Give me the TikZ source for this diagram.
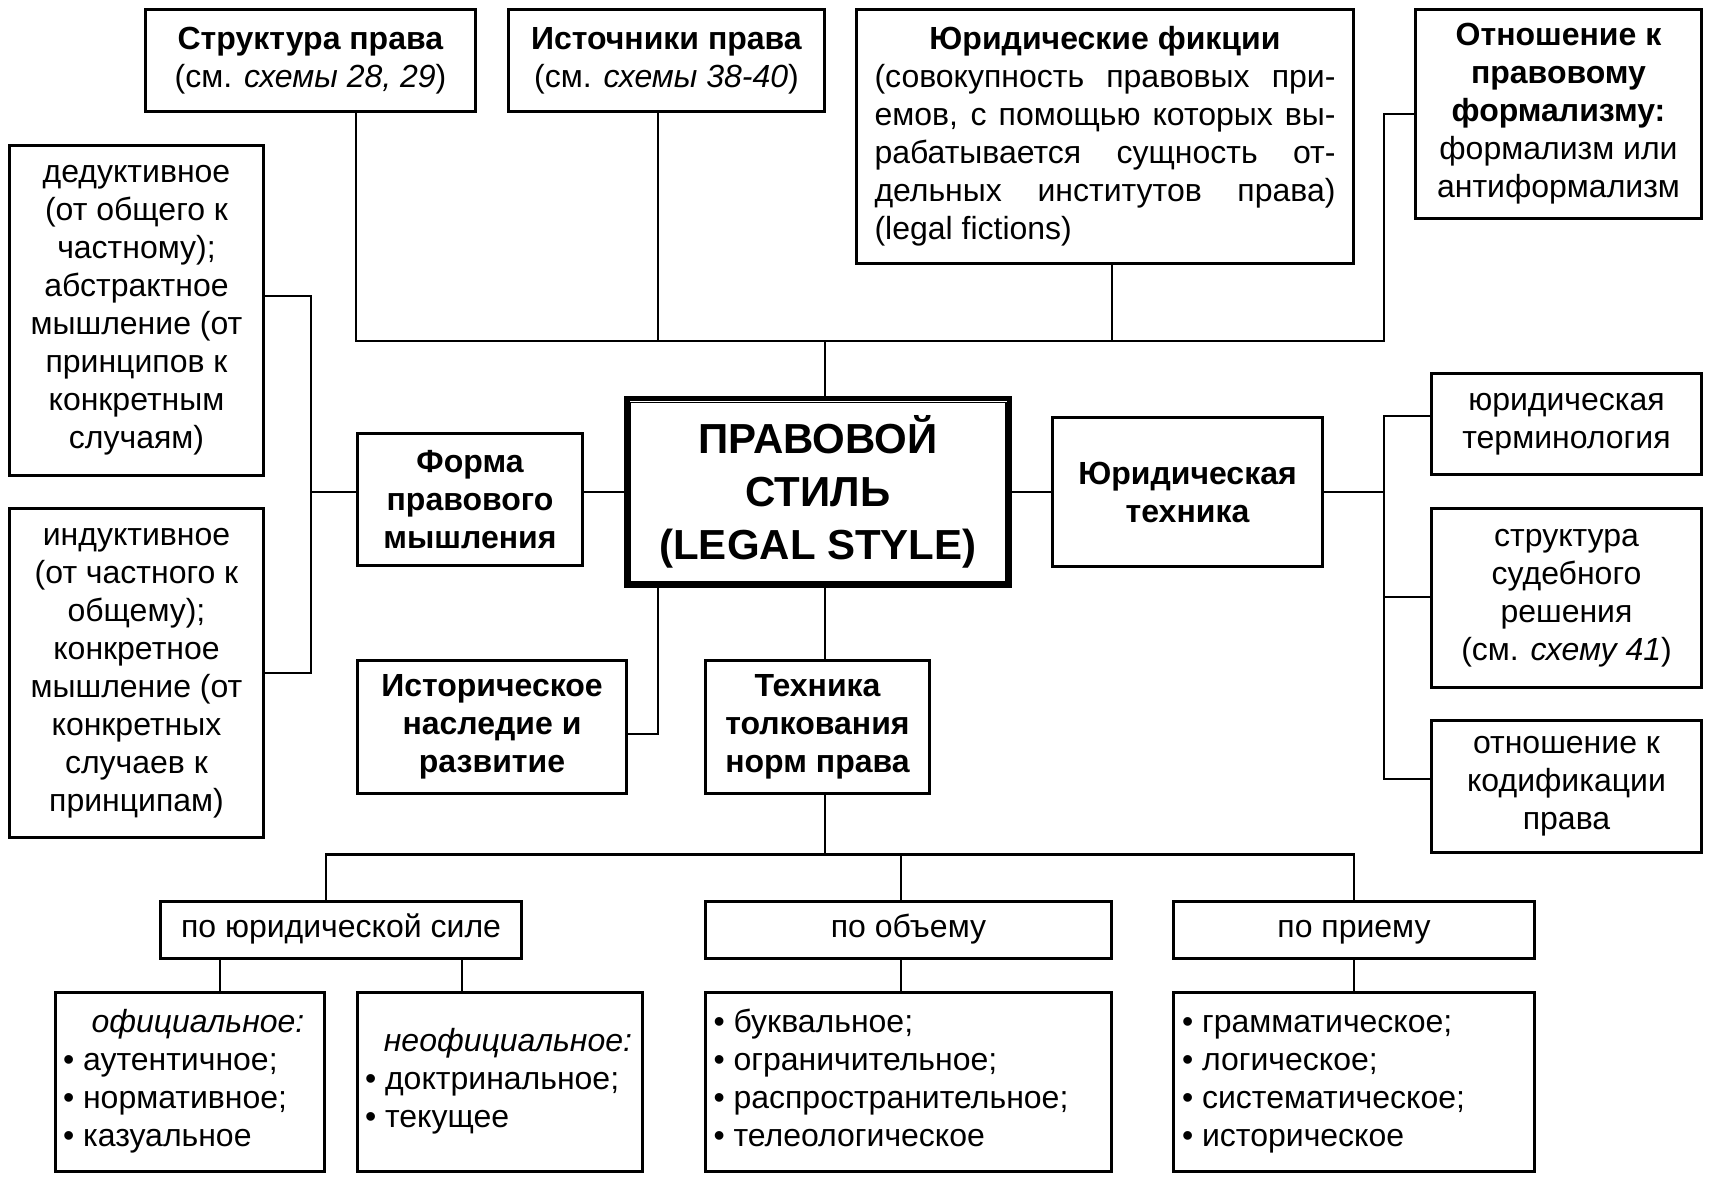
\documentclass[tikz,border=0pt]{standalone}
\usepackage{fontspec}
\setmainfont{Liberation Sans}
\tikzset{
  box/.style={draw, line width=1.45pt, inner sep=0pt, align=center,
    font=\fontsize{16pt}{19pt}\selectfont},
  bbox/.style={font=\bfseries\fontsize{16pt}{19pt}\selectfont},
  conn/.style={line width=1.1pt},
}
% box from its outer edges: [options]{name}{x1}{y1}{x2}{y2}{text}
\newcommand\bx[7][]{%
  \node[box,#1,minimum width={(#5-#3-2.9)*0.5pt},minimum height={(#6-#4-2.9)*0.5pt}]
    (#2) at ({(#3+#5)/2},{(#4+#6)/2}) {#7};}
\begin{document}
\begin{tikzpicture}[x=0.5pt,y=-0.5pt]
\fill[white] (0,0) rectangle (1709,1181);
\useasboundingbox (0,0) rectangle (1709,1181);

% top row
\bx{struct}{144}{8}{477}{113}{\textbf{Структура права}\\(см. \textit{схемы 28, 29})}
\bx{sources}{507}{8}{826}{113}{\textbf{Источники права}\\(см. \textit{схемы 38-40})}
\bx{fict}{855}{8}{1355}{265}{\parbox{230.5pt}{\hyphenpenalty=10000
  {\centering\textbf{Юридические фикции}\par}%
  (совокупность правовых при-\linebreak емов, с помощью которых вы-\linebreak
  рабатывается сущность от-\linebreak дельных институтов права)\linebreak
  (legal fictions)}}
\bx{otn}{1414}{8}{1703}{220}{\textbf{Отношение к}\\\textbf{правовому}\\\textbf{формализму:}\\формализм или\\антиформализм}

% left column
\bx{ded}{8}{144}{265}{477}{дедуктивное\\(от общего к\\частному);\\абстрактное\\мышление (от\\принципов к\\конкретным\\случаям)}
\bx{ind}{8}{507}{265}{839}{индуктивное\\(от частного к\\общему);\\конкретное\\мышление (от\\конкретных\\случаев к\\принципам)}

% middle
\bx[bbox]{form}{356}{432}{584}{567}{Форма\\правового\\мышления}
\node[draw, line width=2.75pt, inner sep=0pt,
  minimum width={(1012-624-5.5)*0.5pt}, minimum height={(588-396-5.5)*0.5pt},
  align=center, font=\bfseries\fontsize{21pt}{26.5pt}\selectfont]
  (central) at (818,492) {ПРАВОВОЙ\\СТИЛЬ\\(LEGAL STYLE)};
\draw[line width=0.75pt] ([shift={(2.9pt,-3.3pt)}]central.north west)
  rectangle ([shift={(-2.9pt,3.3pt)}]central.south east);
\bx[bbox]{yurtech}{1051}{416}{1324}{568}{Юридическая\\техника}
\bx[bbox]{hist}{356}{659}{628}{795}{Историческое\\наследие и\\развитие}
\bx[bbox]{tolk}{704}{659}{931}{795}{Техника\\толкования\\норм права}

% right column
\bx{term}{1430}{372}{1703}{476}{юридическая\\терминология}
\bx{sud}{1430}{507}{1703}{689}{структура\\судебного\\решения\\(см. \textit{схему 41})}
\bx{kod}{1430}{719}{1703}{854}{отношение к\\кодификации\\права}

% kinds of interpretation
\bx{poyur}{159}{900}{523}{960}{\strut по юридической силе}
\bx{poob}{704}{900}{1113}{960}{\strut по объему}
\bx{popr}{1172}{900}{1536}{960}{\strut по приему}
\bx{off}{54}{991}{326}{1173}{\parbox{127pt}{{\centering\itshape\strut\hspace*{8pt}официальное:\par}\raggedright
  • аутентичное;\\• нормативное;\\• казуальное\strut}}
\bx{neoff}{356}{991}{644}{1173}{\parbox{135pt}{{\centering\itshape\strut\hspace*{8pt}неофициальное:\par}\raggedright
  • доктринальное;\\• текущее\strut}}
\bx{obb}{704}{991}{1113}{1173}{\parbox{195pt}{\raggedright
  \strut• буквальное;\\• ограничительное;\\• распространительное;\\• телеологическое\strut}}
\bx{prb}{1172}{991}{1536}{1173}{\parbox{172pt}{\raggedright
  \strut• грамматическое;\\• логическое;\\• систематическое;\\• историческое\strut}}

% junction points
\coordinate (jS) at (356,341);
\coordinate (jI) at (658,341);
\coordinate (jC) at (825,341);
\coordinate (jF) at (1112,341);
\coordinate (jO) at (1384,341);
\coordinate (jL) at (311,492);
\coordinate (bL1) at (311,296);
\coordinate (bL2) at (311,673);
\coordinate (jR) at (1384,492);
\coordinate (bR1) at (1384,416);
\coordinate (bR2) at (1384,597);
\coordinate (bR3) at (1384,779);
\coordinate (jH) at (658,734);
\coordinate (jB) at (825,854.5);
\coordinate (jB1) at (326,854.5);
\coordinate (jB2) at (901,854.5);
\coordinate (jB3) at (1354,854.5);
\coordinate (xa) at (220,975);
\coordinate (xb) at (462,975);
\coordinate (xc) at (901,975);
\coordinate (xd) at (1354,975);

% upper bus
\draw[conn] (struct.south -| jS) -- (jS) -- (jO) |- (otn.west);
\draw[conn] (sources.south -| jI) -- (jI);
\draw[conn] (fict.south -| jF) -- (jF);
\draw[conn] (jC) -- (central.north -| jC);

% left side
\draw[conn] (central.west) -- (central.west -| form.east);
\draw[conn] (form.west |- jL) -- (jL);
\draw[conn] (ded.east |- bL1) -- (bL1) -- (bL2) -- (ind.east |- bL2);
\draw[conn] (hist.east |- jH) -- (jH) -- (central.south -| jH);

% right side
\draw[conn] (central.east) -- (yurtech.west |- central.east);
\draw[conn] (yurtech.east |- jR) -- (jR);
\draw[conn] (term.west |- bR1) -- (bR1) -- (bR3) -- (kod.west |- bR3);
\draw[conn] (sud.west |- bR2) -- (bR2);

% lower tree
\draw[conn] (central.south -| jC) -- (tolk.north -| jC);
\draw[conn] (tolk.south -| jB) -- (jB);
\draw[conn] (poyur.north -| jB1) -- (jB1) -- (jB3) -- (popr.north -| jB3);
\draw[conn] (jB2) -- (poob.north -| jB2);
\draw[conn] (poyur.south -| xa) -- (off.north -| xa);
\draw[conn] (poyur.south -| xb) -- (neoff.north -| xb);
\draw[conn] (poob.south -| xc) -- (obb.north -| xc);
\draw[conn] (popr.south -| xd) -- (prb.north -| xd);
\end{tikzpicture}
\end{document}
